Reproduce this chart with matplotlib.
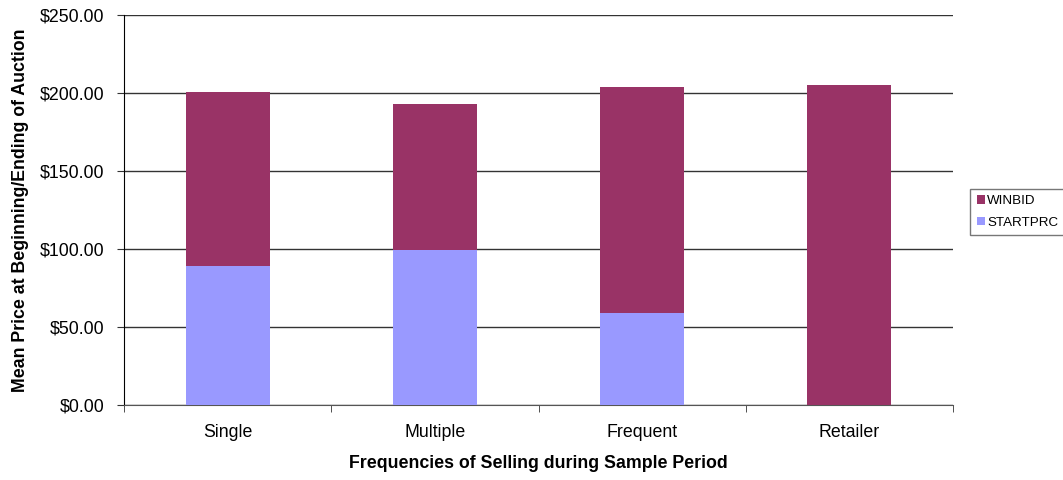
import matplotlib
matplotlib.use("Agg")
import matplotlib.pyplot as plt
import numpy as np

categories = ["Single", "Multiple", "Frequent", "Retailer"]
startprc = [89.0, 99.5, 59.0, 0.0]
winbid_seg = [111.5, 93.5, 144.8, 205.0]   # segment stacked above STARTPRC

plt.rcParams["font.family"] = ["Liberation Sans", "DejaVu Sans"]

fig = plt.figure(figsize=(10.63, 4.8), dpi=100)
ax = fig.add_axes([124 / 1063, 75 / 480, 829 / 1063, 390 / 480])

x = np.arange(len(categories))
ax.bar(x, startprc, width=0.405, color="#9999ff", label="STARTPRC", zorder=3)
ax.bar(x, winbid_seg, width=0.405, bottom=startprc, color="#993366", label="WINBID", zorder=3)

ax.set_xlim(-0.5, len(categories) - 0.5)
ax.set_ylim(0, 250)
ax.set_yticks(np.arange(0, 251, 50))
ax.set_yticklabels([f"${v:.2f}" for v in np.arange(0, 251, 50)], fontsize=12.8)
ax.yaxis.grid(True, color="#333333", linewidth=1.0, zorder=0)
ax.set_axisbelow(True)

ax.set_xticks(x)
ax.set_xticklabels(categories, fontsize=12.8)
ax.tick_params(axis="x", which="major", length=0, pad=14)
ax.set_xticks(np.arange(-0.5, len(categories)), minor=True)
ax.tick_params(axis="x", which="minor", length=5, color="#333333")
ax.tick_params(axis="y", length=5, color="#333333", pad=9)

for s in ("top", "right"):
    ax.spines[s].set_visible(False)
ax.spines["left"].set_color("black")
ax.spines["bottom"].set_color("#555555")

ax.set_xlabel("Frequencies of Selling during Sample Period", fontsize=12.8, fontweight="bold", labelpad=10)
ax.set_ylabel("Mean Price at Beginning/Ending of Auction", fontsize=12.8, fontweight="bold", labelpad=8)

h, l = ax.get_legend_handles_labels()
leg = fig.legend(h[::-1], l[::-1], loc="center left", bbox_to_anchor=(970 / 1063, 1 - 212 / 480),
                 fontsize=9.6, frameon=True, fancybox=False, handlelength=0.6, handleheight=0.6,
                 handletextpad=0.2, borderpad=0.5, labelspacing=0.7, borderaxespad=0)
leg.get_frame().set_edgecolor("#555555")
leg.get_frame().set_linewidth(1.0)

fig.savefig("out.png", facecolor="white")
